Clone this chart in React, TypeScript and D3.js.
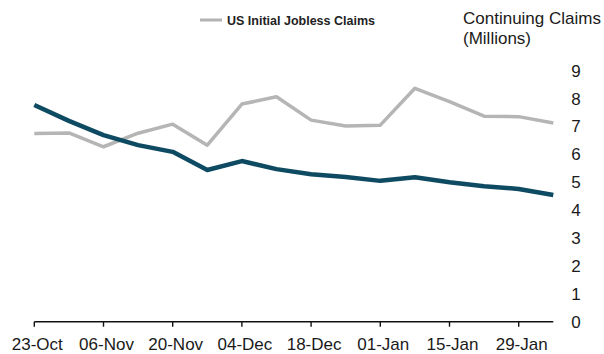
import React from "react";
import * as d3 from "d3";

const weeks = [
  "2020-10-23", "2020-10-30", "2020-11-06", "2020-11-13", "2020-11-20", "2020-11-27",
  "2020-12-04", "2020-12-11", "2020-12-18", "2020-12-25", "2021-01-01", "2021-01-08",
  "2021-01-15", "2021-01-22", "2021-01-29", "2021-02-05",
];
// Initial claims (thousands, hidden left axis)
const initialClaims = [750, 752, 697, 751, 787, 703, 867, 896, 803, 780, 783, 930, 877, 819, 817, 792];
// Continuing claims (millions, right axis)
const continuingClaims = [7.77, 7.2, 6.69, 6.33, 6.09, 5.44, 5.76, 5.47, 5.29, 5.19, 5.05, 5.18, 5.0, 4.86, 4.76, 4.54];
const tickDates = ["2020-10-23", "2020-11-06", "2020-11-20", "2020-12-04", "2020-12-18", "2021-01-01", "2021-01-15", "2021-01-29"];
const rightTicks = [0, 1, 2, 3, 4, 5, 6, 7, 8, 9];

const parse = d3.utcParse("%Y-%m-%d");
const fmt = d3.utcFormat("%d-%b");

export default function App() {
  const W = 604, H = 354;
  const x0 = 34.3, x1 = 553.3, yTop = 70.7, yBot = 321.7;
  const x = d3.scaleUtc().domain([parse(weeks[0])!, parse(weeks[weeks.length - 1])!]).range([x0, x1]);
  const yR = d3.scaleLinear().domain([0, 9]).range([yBot, yTop]);
  const yL = d3.scaleLinear().domain([0, 1000]).range([yBot, yTop]);
  const dates = weeks.map((d) => parse(d)!);
  const grayPath = d3.line<number>().x((_, i) => x(dates[i])).y((v) => yL(v))(initialClaims)!;
  const tealPath = d3.line<number>().x((_, i) => x(dates[i])).y((v) => yR(v))(continuingClaims)!;
  const font = "'Liberation Sans', Arial, sans-serif";
  return (
    <svg width={W} height={H} style={{ position: "absolute", left: 0, top: 0, background: "#fff" }}>
      <rect width={W} height={H} fill="#fff" />
      {/* legend */}
      <line x1={200} x2={222} y1={20} y2={20} stroke="#b3b3b3" strokeWidth={3} />
      <text x={227} y={25} fontFamily={font} fontSize={12} fontWeight={700} fill="#222" textLength={148} lengthAdjust="spacingAndGlyphs">
        US Initial Jobless Claims
      </text>
      <text x={463} y={24} fontFamily={font} fontSize={17} fill="#1a1a1a">Continuing Claims</text>
      <text x={463} y={44} fontFamily={font} fontSize={17} fill="#1a1a1a">(Millions)</text>
      {/* right axis labels */}
      {rightTicks.map((t) => (
        <text key={t} x={576} y={yR(t) + 6} textAnchor="middle" fontFamily={font} fontSize={17} fill="#1a1a1a">
          {t}
        </text>
      ))}
      {/* x axis */}
      <line x1={x0} x2={x1} y1={yBot} y2={yBot} stroke="#111" strokeWidth={1.6} />
      {tickDates.map((d) => {
        const dt = parse(d)!;
        return (
          <g key={d}>
            <line x1={x(dt)} x2={x(dt)} y1={yBot} y2={yBot + 5} stroke="#111" strokeWidth={1.4} />
            <text x={x(dt) + 3} y={350} textAnchor="middle" fontFamily={font} fontSize={17} fill="#1a1a1a">
              {fmt(dt)}
            </text>
          </g>
        );
      })}
      {/* lines */}
      <path d={grayPath} fill="none" stroke="#b5b5b5" strokeWidth={3.5} strokeLinejoin="round" />
      <path d={tealPath} fill="none" stroke="#0e4a62" strokeWidth={4.5} strokeLinejoin="round" />
    </svg>
  );
}
